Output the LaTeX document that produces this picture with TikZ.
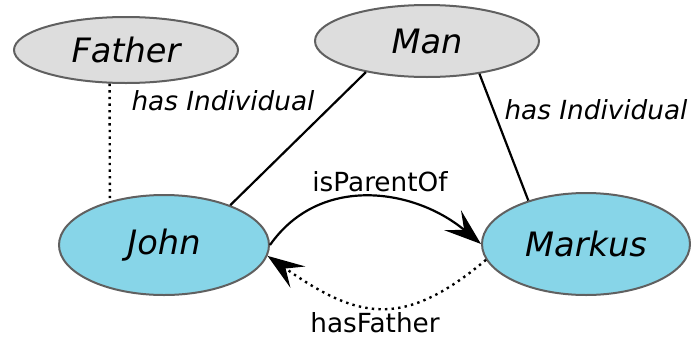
\documentclass[tikz,border=0pt]{standalone}
\usepackage{fontspec}
\setmainfont{DejaVu Sans}
\usetikzlibrary{shapes.geometric,arrows.meta}
\definecolor{classfill}{HTML}{DDDDDD}
\definecolor{indfill}{HTML}{87D5E8}
\definecolor{bordergray}{HTML}{606060}
\tikzset{
  classnode/.style={ellipse, draw=bordergray, line width=2pt, fill=classfill, inner sep=0pt, font=\fontsize{33.6}{36}\selectfont\itshape},
  indnode/.style={ellipse, draw=bordergray, line width=2pt, fill=indfill, inner sep=0pt, font=\fontsize{33.6}{36}\selectfont\itshape},
  conn/.style={line width=2.2pt, black},
  dotconn/.style={line width=2.4pt, black, dash pattern=on 2.4pt off 4.2pt},
  edgelabel/.style={font=\fontsize{26.3}{28}\selectfont, inner sep=0pt},
  ilabel/.style={font=\fontsize{26.3}{28}\selectfont\itshape, inner sep=0pt},
  bigtip/.style={-{Stealth[length=37pt, width=26pt, inset=15pt]}}
}
\begin{document}
\begin{tikzpicture}[x=1pt, y=-1pt]
\useasboundingbox (0,0) rectangle (691,338);
\node[classnode, minimum width=224pt, minimum height=66pt] (Father) at (126,50) {Father};
\node[classnode, minimum width=224pt, minimum height=72pt] (Man) at (427,41) {Man};
\node[indnode, minimum width=210pt, minimum height=100pt] (John) at (164,245) {John};
\node[indnode, minimum width=208pt, minimum height=102pt] (Markus) at (586,244) {Markus};

\draw[dotconn] (Father.244) -- (John.141.5);
\draw[conn] (Man.207.7) -- (John.31);
\draw[conn] (Man.328.7) -- (Markus.143);

\draw[conn, bigtip] (John.east) to[out=55, in=140, looseness=1.05] (Markus.west);
\draw[dotconn, bigtip] (Markus.189) to[out=220, in=-35, looseness=1.28] (John.-6);

\node[edgelabel] (lpar) at (380,182) {isParentOf};
\node[edgelabel] (lfat) at (375,323) {hasFather};
\node[ilabel] (lhi1) at (223,101) {has Individual};
\node[ilabel] (lhi2) at (596,110) {has Individual};
\end{tikzpicture}
\end{document}
